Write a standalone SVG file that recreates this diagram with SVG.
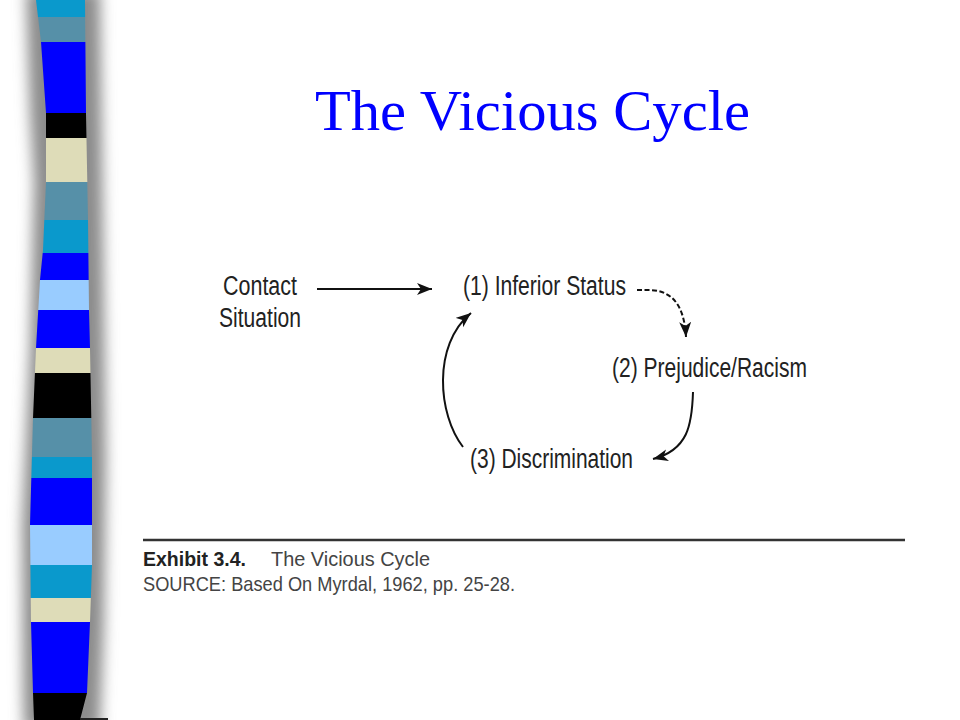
<svg xmlns="http://www.w3.org/2000/svg" width="960" height="720" viewBox="0 0 960 720">
  <style>
    .lbl { font-family: "Liberation Sans", Arial, sans-serif; font-size: 27px; fill: #222; }
    .cap { font-family: "Liberation Sans", Arial, sans-serif; font-size: 21px; fill: #444; }
    .conn { fill: none; stroke: #111; stroke-width: 2; }
  </style>
  <defs>
    <marker id="ah" markerUnits="userSpaceOnUse" markerWidth="18" markerHeight="14" refX="15" refY="6" orient="auto">
      <path d="M0,0 L15,6 L0,12 L4,6 z" fill="#111"/>
    </marker>
    <clipPath id="barclip">
      <path id="barshape" d="M36,0 L41,42 L46,113 L46,182 L43,250 L40,280 L36,348 L33,418 L30,525 L31,622 L33,693 L34,720 L80,720 L87,693 L90,622 L92,565 L92,457 L90,348 L89,310 L88,220 L86,113 L85,0 Z"/>
    </clipPath>
    <filter id="blur" x="-50%" y="-5%" width="200%" height="110%">
      <feGaussianBlur stdDeviation="7"/>
    </filter>
  </defs>
  <rect width="960" height="720" fill="#fff"/>

  <g id="stripe-bar">
    <path d="M26,-10 L30,113 L34,182 L30,348 L22,525 L23,693 L24,730 L100,730 L104,622 L106,457 L103,220 L100,-10 Z" fill="#8c8c8c" filter="url(#blur)"/>
    <g clip-path="url(#barclip)">
      <rect x="20" y="0" width="80" height="17" fill="#0a99cc"/>
      <rect x="20" y="17" width="80" height="25" fill="#5690a8"/>
      <rect x="20" y="42" width="80" height="71" fill="#0000ff"/>
      <rect x="20" y="113" width="80" height="25" fill="#000"/>
      <rect x="20" y="138" width="80" height="44" fill="#dedcb8"/>
      <rect x="20" y="182" width="80" height="38" fill="#5690a8"/>
      <rect x="20" y="220" width="80" height="33" fill="#0a99cc"/>
      <rect x="20" y="253" width="80" height="27" fill="#0000ff"/>
      <rect x="20" y="280" width="80" height="30" fill="#99ccff"/>
      <rect x="20" y="310" width="80" height="38" fill="#0000ff"/>
      <rect x="20" y="348" width="80" height="25" fill="#dedcb8"/>
      <rect x="20" y="373" width="80" height="45" fill="#000"/>
      <rect x="20" y="418" width="80" height="39" fill="#5690a8"/>
      <rect x="20" y="457" width="80" height="21" fill="#0a99cc"/>
      <rect x="20" y="478" width="80" height="47" fill="#0000ff"/>
      <rect x="20" y="525" width="80" height="40" fill="#99ccff"/>
      <rect x="20" y="565" width="80" height="33" fill="#0a99cc"/>
      <rect x="20" y="598" width="80" height="24" fill="#dedcb8"/>
      <rect x="20" y="622" width="80" height="71" fill="#0000ff"/>
      <rect x="20" y="693" width="80" height="27" fill="#000"/>
    </g>
    <rect x="80" y="718" width="28" height="2" fill="#222"/>
  </g>

  <g id="title">
    <text x="315" y="130" font-family="Liberation Serif, 'Times New Roman', serif" font-size="58" fill="#0000ff" textLength="435" lengthAdjust="spacingAndGlyphs">The Vicious Cycle</text>
  </g>

  <g id="connectors">
    <path class="conn" d="M317,289 L432,289" marker-end="url(#ah)"/>
    <path class="conn" d="M637,290 L648,290 C668,290 684,300 686,337" stroke-dasharray="5 2.5" marker-end="url(#ah)"/>
    <path class="conn" d="M693,392 C692,425 688,450 653,459" marker-end="url(#ah)"/>
    <path class="conn" d="M463,447 C438,415 432,345 471,313" marker-end="url(#ah)"/>
  </g>

  <g id="node-contact">
    <text class="lbl" x="223" y="295" textLength="74" lengthAdjust="spacingAndGlyphs">Contact</text>
    <text class="lbl" x="219" y="327" textLength="82" lengthAdjust="spacingAndGlyphs">Situation</text>
  </g>
  <g id="node-inferior">
    <text class="lbl" x="463" y="295" textLength="163" lengthAdjust="spacingAndGlyphs">(1) Inferior Status</text>
  </g>
  <g id="node-prejudice">
    <text class="lbl" x="612" y="377" textLength="195" lengthAdjust="spacingAndGlyphs">(2) Prejudice/Racism</text>
  </g>
  <g id="node-discrimination">
    <text class="lbl" x="470" y="468" textLength="163" lengthAdjust="spacingAndGlyphs">(3) Discrimination</text>
  </g>

  <g id="caption">
    <line x1="143" y1="540" x2="905" y2="540" stroke="#333" stroke-width="2.5"/>
    <text class="cap" x="143" y="566" font-weight="bold" style="fill:#222" textLength="103" lengthAdjust="spacingAndGlyphs">Exhibit 3.4.</text>
    <text class="cap" x="271" y="566" textLength="159" lengthAdjust="spacingAndGlyphs">The Vicious Cycle</text>
    <text class="cap" x="143" y="591" textLength="372" lengthAdjust="spacingAndGlyphs">SOURCE: Based On Myrdal, 1962, pp. 25-28.</text>
  </g>
</svg>
